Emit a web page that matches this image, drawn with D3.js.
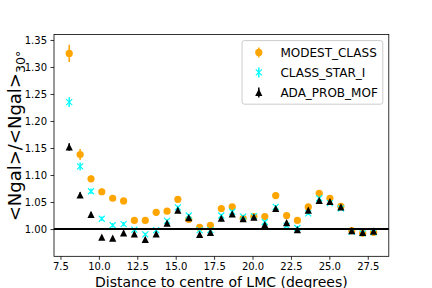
<!DOCTYPE html>
<html>
<head>
<meta charset="utf-8">
<script src="https://cdn.jsdelivr.net/npm/d3@7"></script>
<style>
  body { margin: 0; background: #fff; }
  svg text { font-family: "DejaVu Sans", sans-serif; fill: #000; }
</style>
</head>
<body>
<div id="grafico"></div>
<script>
// distance bins (degrees)
const distancias = [8.07, 8.78, 9.49, 10.19, 10.90, 11.61, 12.31, 13.02, 13.73, 14.44,
  15.14, 15.85, 16.56, 17.26, 17.97, 18.68, 19.39, 20.09, 20.80, 21.51,
  22.22, 22.92, 23.63, 24.34, 25.04, 25.75, 26.46, 27.17, 27.88];

const modest = [1.325, 1.138, 1.093, 1.069, 1.057, 1.052, 1.016, 1.016, 1.031, 1.033,
  1.055, 1.018, 1.003, 1.007, 1.038, 1.041, 1.020, 1.023, 1.023, 1.062,
  1.025, 1.016, 1.041, 1.066, 1.057, 1.042, 0.997, 0.992, 0.994];
const modestErr = [0.016, 0.010, 0.006, 0.006, 0.005, 0.005, 0.004, 0.004, 0.004, 0.004,
  0.004, 0.003, 0.003, 0.003, 0.003, 0.003, 0.003, 0.003, 0.003, 0.003,
  0.003, 0.003, 0.003, 0.003, 0.003, 0.003, 0.003, 0.003, 0.003];

const classStar = [1.235, 1.116, 1.070, 1.019, 1.007, 1.009, 0.999, 0.990, 0.998, 1.015,
  1.040, 1.025, 0.998, 0.998, 1.025, 1.032, 1.023, 1.024, 1.013, 1.041,
  1.006, 1.002, 1.029, 1.057, 1.048, 1.038, 0.995, 0.992, 0.994];
const classStarErr = [0.009, 0.007, 0.005, 0.004, 0.004, 0.004, 0.003, 0.003, 0.003, 0.003,
  0.003, 0.003, 0.003, 0.003, 0.003, 0.003, 0.003, 0.003, 0.003, 0.003,
  0.003, 0.003, 0.003, 0.003, 0.003, 0.003, 0.003, 0.003, 0.003];

const adaProb = [1.152, 1.063, 1.027, 0.985, 0.983, 0.993, 0.991, 0.981, 0.991, 1.011,
  1.035, 1.021, 0.990, 0.994, 1.020, 1.028, 1.019, 1.022, 1.008, 1.038,
  1.012, 0.999, 1.035, 1.053, 1.051, 1.041, 0.997, 0.994, 0.996];
const adaProbErr = [0.007, 0.005, 0.004, 0.003, 0.003, 0.003, 0.003, 0.003, 0.003, 0.003,
  0.003, 0.003, 0.003, 0.003, 0.003, 0.003, 0.003, 0.003, 0.003, 0.003,
  0.003, 0.003, 0.003, 0.003, 0.003, 0.003, 0.003, 0.003, 0.003];

const ticksX = [7.5, 10.0, 12.5, 15.0, 17.5, 20.0, 22.5, 25.0, 27.5];
const ticksY = [1.00, 1.05, 1.10, 1.15, 1.20, 1.25, 1.30, 1.35];

const series = [
  { nome: 'MODEST_CLASS', valores: modest, erros: modestErr, cor: '#ffa500', marca: 'circulo' },
  { nome: 'CLASS_STAR_I', valores: classStar, erros: classStarErr, cor: '#00ffff', marca: 'xis' },
  { nome: 'ADA_PROB_MOF', valores: adaProb, erros: adaProbErr, cor: '#000000', marca: 'triangulo' }
];

// layout (matplotlib default subplot box at 432x288)
const W = 432, H = 288;
const area = { left: 54, right: 388.8, top: 34.56, bottom: 256.32 };

const svg = d3.select('#grafico').append('svg')
  .attr('width', W)
  .attr('height', H);

const x = d3.scaleLinear().domain([7.08, 28.87]).range([area.left, area.right]);
const y = d3.scaleLinear().domain([0.9495, 1.360]).range([area.bottom, area.top]);

// marker shapes
function desenhaMarca(g, tipo, cx, cy, cor) {
  if (tipo === 'circulo') {
    g.append('circle').attr('cx', cx).attr('cy', cy).attr('r', 3.6).attr('fill', cor);
  } else if (tipo === 'xis') {
    const s = 3;
    g.append('path')
      .attr('d', `M${cx - s},${cy - s}L${cx + s},${cy + s}M${cx - s},${cy + s}L${cx + s},${cy - s}`)
      .attr('stroke', cor).attr('stroke-width', 1.2).attr('fill', 'none');
  } else {
    const s = 3.6;
    g.append('path')
      .attr('d', `M${cx},${cy - s}L${cx - s},${cy + s}L${cx + s},${cy + s}Z`)
      .attr('fill', cor);
  }
}

const plot = svg.append('g');

series.forEach(function (s) {
  const g = plot.append('g');
  s.valores.forEach(function (v, i) {
    const cx = x(distancias[i]);
    g.append('line')
      .attr('x1', cx).attr('x2', cx)
      .attr('y1', y(v - s.erros[i])).attr('y2', y(v + s.erros[i]))
      .attr('stroke', s.cor).attr('stroke-width', 1.5);
    desenhaMarca(g, s.marca, cx, y(v), s.cor);
  });
});

// horizontal line at 1
plot.append('line')
  .attr('x1', area.left).attr('x2', area.right)
  .attr('y1', y(1)).attr('y2', y(1))
  .attr('stroke', '#000').attr('stroke-width', 2);

// axes
const eixoX = svg.append('g')
  .attr('transform', `translate(0, ${area.bottom})`)
  .call(d3.axisBottom(x).tickValues(ticksX).tickFormat(d3.format('.1f'))
    .tickSize(3.5).tickPadding(3.5).tickSizeOuter(0));
const eixoY = svg.append('g')
  .attr('transform', `translate(${area.left}, 0)`)
  .call(d3.axisLeft(y).tickValues(ticksY).tickFormat(d3.format('.2f'))
    .tickSize(3.5).tickPadding(3.5).tickSizeOuter(0));

[eixoX, eixoY].forEach(function (e) {
  e.select('.domain').remove();
  e.selectAll('line').attr('stroke', '#000').attr('stroke-width', 0.8);
  e.selectAll('text').attr('font-size', 10).attr('font-family', 'DejaVu Sans').attr('fill', '#000');
});

// frame
svg.append('rect')
  .attr('x', area.left).attr('y', area.top)
  .attr('width', area.right - area.left).attr('height', area.bottom - area.top)
  .attr('fill', 'none').attr('stroke', '#000').attr('stroke-width', 0.8);

// axis titles
svg.append('text')
  .attr('x', (area.left + area.right) / 2)
  .attr('y', 286.5)
  .attr('text-anchor', 'middle')
  .attr('font-size', 14)
  .text('Distance to centre of LMC (degrees)');

const rotulo = svg.append('text')
  .attr('transform', `translate(21, 136) rotate(-90)`)
  .attr('text-anchor', 'middle')
  .attr('font-size', 18);
rotulo.append('tspan').text('<Ngal>/<Ngal>');
rotulo.append('tspan').attr('dy', 4).attr('font-size', 12.6).text('30°');

// legend
const leg = { x: 242, y: 40.6, w: 140.8, h: 63.6 };
const legenda = svg.append('g');
legenda.append('rect')
  .attr('x', leg.x).attr('y', leg.y).attr('width', leg.w).attr('height', leg.h)
  .attr('rx', 2.5)
  .attr('fill', '#fff').attr('fill-opacity', 0.8)
  .attr('stroke', '#cccccc').attr('stroke-width', 1);

series.forEach(function (s, i) {
  const cy = leg.y + 11.8 + i * 20;
  const cx = leg.x + 4.8 + 12;
  legenda.append('line')
    .attr('x1', cx).attr('x2', cx).attr('y1', cy - 5).attr('y2', cy + 5)
    .attr('stroke', s.cor).attr('stroke-width', 1.5);
  desenhaMarca(legenda, s.marca, cx, cy, s.cor);
  legenda.append('text')
    .attr('x', leg.x + 38.4)
    .attr('y', cy)
    .attr('dy', '0.36em')
    .attr('font-size', 12)
    .text(s.nome);
});
</script>
</body>
</html>
